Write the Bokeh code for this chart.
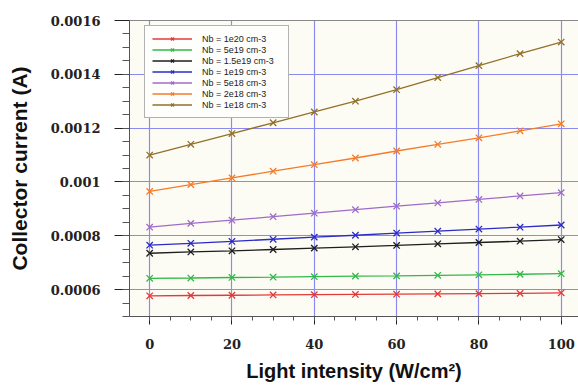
import numpy as np
from bokeh.plotting import figure
from bokeh.models import Range1d, FixedTicker, LinearAxis, Legend, LegendItem
from bokeh.embed import file_html
from bokeh.resources import INLINE

# ---- data ----
light = [0, 10, 20, 30, 40, 50, 60, 70, 80, 90, 100]
ic_1e20 = [0.000577, 0.000578, 0.000579, 0.000580, 0.000581, 0.000582, 0.000583, 0.000584, 0.000585, 0.000586, 0.000588]
ic_5e19 = [0.000642, 0.000643, 0.000645, 0.000646, 0.000648, 0.000650, 0.000651, 0.000653, 0.000655, 0.000657, 0.000659]
ic_1p5e19 = [0.000735, 0.000740, 0.000744, 0.000749, 0.000754, 0.000759, 0.000764, 0.000770, 0.000775, 0.000780, 0.000786]
ic_1e19 = [0.000765, 0.000772, 0.000779, 0.000787, 0.000795, 0.000802, 0.000810, 0.000817, 0.000825, 0.000832, 0.000840]
ic_5e18 = [0.000832, 0.000846, 0.000858, 0.000871, 0.000884, 0.000897, 0.000910, 0.000922, 0.000935, 0.000948, 0.000960]
ic_2e18 = [0.000965, 0.000990, 0.001015, 0.001040, 0.001064, 0.001089, 0.001115, 0.001140, 0.001164, 0.001190, 0.001216]
ic_1e18 = [0.001100, 0.001140, 0.001180, 0.001220, 0.001260, 0.001300, 0.001343, 0.001388, 0.001432, 0.001477, 0.001520]

series_labels = ["Nb = 1e20 cm-3", "Nb = 5e19 cm-3", "Nb = 1.5e19 cm-3", "Nb = 1e19 cm-3",
                 "Nb = 5e18 cm-3", "Nb = 2e18 cm-3", "Nb = 1e18 cm-3"]
series_values = [ic_1e20, ic_5e19, ic_1p5e19, ic_1e19, ic_5e18, ic_2e18, ic_1e18]
series_colors = ["#E23A3A", "#33B849", "#1E1E1E", "#2B2BC8", "#9E6CC8", "#F47B2A", "#92702A"]

x_ticks = [0, 20, 40, 60, 80, 100]
y_ticks = [0.0006, 0.0008, 0.001, 0.0012, 0.0014, 0.0016]
y_tick_labels = ["0.0006", "0.0008", "0.001", "0.0012", "0.0014", "0.0016"]

# ---- figure ----
p = figure(width=578, height=385, output_backend="svg", toolbar_location=None,
           x_range=Range1d(-4.9, 104.2), y_range=Range1d(0.0005, 0.0016),
           min_border_left=129, min_border_right=0, min_border_top=20, min_border_bottom=69,
           background_fill_color="#FDFCF4", border_fill_color="white",
           outline_line_color=None)

grid_color = "#8A8AF0"
p.xgrid.ticker = FixedTicker(ticks=x_ticks)
p.ygrid.ticker = FixedTicker(ticks=y_ticks)
for g in (p.xgrid, p.ygrid):
    g.grid_line_color = grid_color
    g.grid_line_width = 1.2
    g.grid_line_alpha = 1.0

x_minor = list(np.arange(-5, 105, 5))
y_minor = list(np.arange(0.0005, 0.00161, 0.00005))
p.xaxis.ticker = FixedTicker(ticks=x_ticks, minor_ticks=x_minor)
p.yaxis.ticker = FixedTicker(ticks=y_ticks, minor_ticks=y_minor)
p.yaxis.major_label_overrides = dict(zip(y_ticks, y_tick_labels))

tick_font = "DejaVu Serif"
for ax in (p.xaxis[0], p.yaxis[0]):
    ax.axis_line_color = "#555555"
    ax.major_tick_line_color = "#222222"
    ax.minor_tick_line_color = "#555555"
    ax.major_tick_in = 0
    ax.minor_tick_in = 0
    ax.major_label_text_font = tick_font
    ax.major_label_text_font_style = "bold"
    ax.major_label_text_font_size = "13px"
    ax.major_label_text_color = "#222222"
    ax.axis_label_text_font = "Liberation Sans"
    ax.axis_label_text_font_style = "bold"
    ax.axis_label_text_color = "#111111"

p.yaxis.major_tick_out = 15
p.yaxis.minor_tick_out = 7
p.yaxis.major_label_standoff = 14
p.yaxis.axis_label = "Collector current (A)"
p.yaxis.axis_label_standoff = 17
p.yaxis.axis_label_text_font_size = "21px"

p.xaxis.major_tick_out = 8
p.xaxis.minor_tick_out = 4
p.xaxis.major_label_standoff = 14
p.xaxis.axis_label = "Light intensity (W/cm²)"
p.xaxis.axis_label_standoff = 8
p.xaxis.axis_label_text_font_size = "20px"

# top border line (no ticks, no labels)
top_axis = LinearAxis(ticker=FixedTicker(ticks=[]), major_tick_out=0, major_tick_in=0,
                      minor_tick_out=0, minor_tick_in=0, axis_line_color="#888888")
p.add_layout(top_axis, "above")

items = []
for lab, vals, col in zip(series_labels, series_values, series_colors):
    ln = p.line(light, vals, line_color=col, line_width=1.3)
    sc = p.scatter(light, vals, marker="x", size=9, line_color=col, line_width=1.3)
    items.append(LegendItem(label=lab, renderers=[ln, sc]))

legend = Legend(items=items, location=(15, 198),
                label_text_font="Liberation Sans Narrow, Liberation Sans",
                label_text_font_size="9px", label_text_color="#222222",
                label_height=11, glyph_height=11, glyph_width=40, label_standoff=10,
                label_width=79, spacing=0, padding=7, margin=0,
                border_line_color="#666666", border_line_width=1,
                background_fill_color="#FEFEFC", background_fill_alpha=1)
p.add_layout(legend)

open("out.html", "w").write(file_html(p, INLINE))
